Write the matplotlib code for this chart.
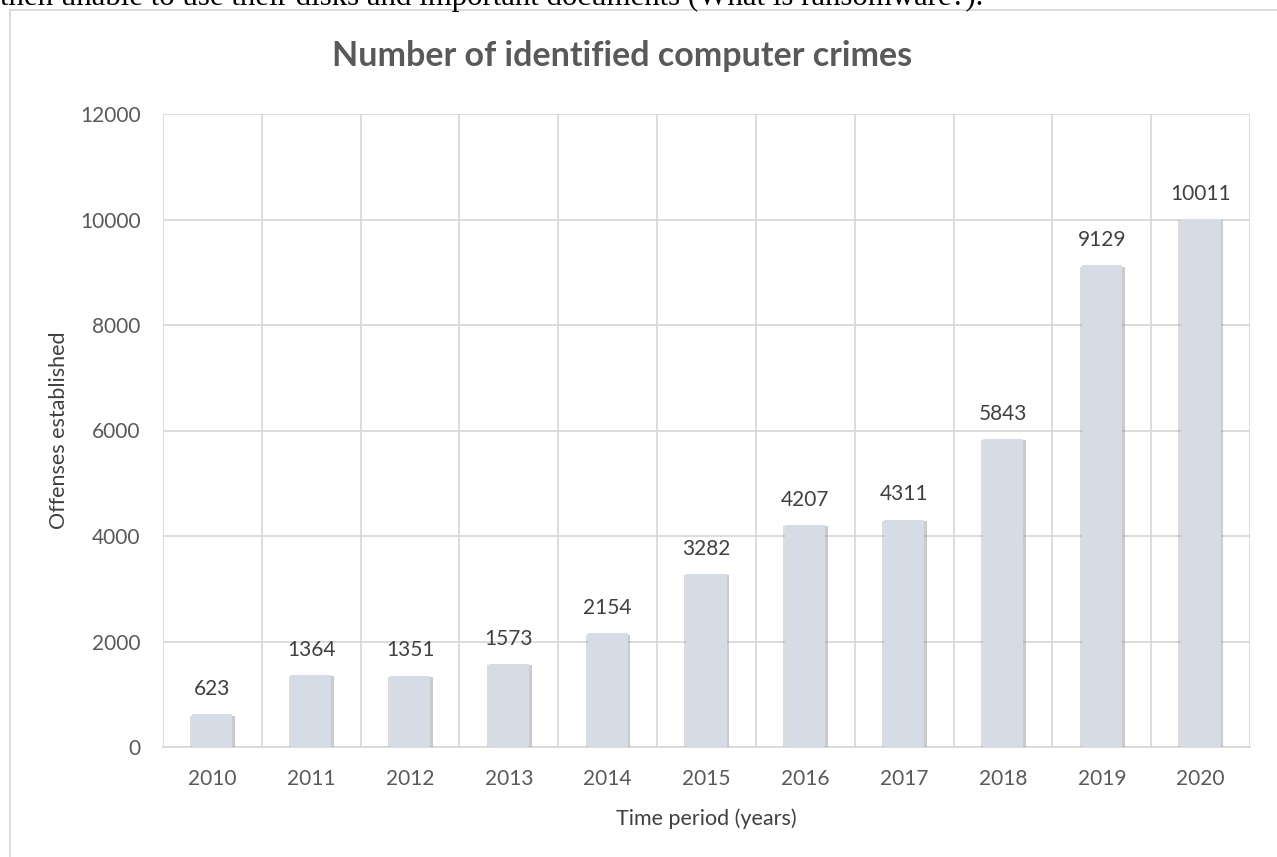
import matplotlib
matplotlib.use("Agg")
import matplotlib.pyplot as plt
import matplotlib.patheffects as pe
from matplotlib.lines import Line2D

years = ["2010", "2011", "2012", "2013", "2014", "2015", "2016", "2017", "2018", "2019", "2020"]
offenses = [623, 1364, 1351, 1573, 2154, 3282, 4207, 4311, 5843, 9129, 10011]
yticks = [0, 2000, 4000, 6000, 8000, 10000, 12000]

W, H = 1277, 857
fig = plt.figure(figsize=(W / 100, H / 100), dpi=100)
fig.patch.set_facecolor("white")

FONT = ["Lato", "DejaVu Sans"]
GRAY = "#595959"
DARK = "#404040"
GRID = "#D9D9D9"

# outer chart frame (left and top edges visible)
fig.add_artist(Line2D([9.5 / W, 9.5 / W], [0, 1 - 9.5 / H], transform=fig.transFigure, color=GRID, lw=1.3))
fig.add_artist(Line2D([9.5 / W, 1], [1 - 9.5 / H, 1 - 9.5 / H], transform=fig.transFigure, color=GRID, lw=1.3))

# cut-off body text at top
fig.text(0.0, 1 - 4.5 / H, "then unable to use their disks and important documents (What is ransomware?).",
         family=["Liberation Serif", "DejaVu Serif"], fontsize=22.2, color="black", ha="left", va="baseline")

left, right, top, bottom = 163, 1250, 114, 747
ax = fig.add_axes([left / W, 1 - bottom / H, (right - left) / W, (bottom - top) / H])
x = list(range(len(years)))
shadow = [pe.SimplePatchShadow(offset=(2.0, -1.0), shadow_rgbFace="#8c8c8c", alpha=0.45),
          pe.SimplePatchShadow(offset=(-1.5, -1.0), shadow_rgbFace="#8c8c8c", alpha=0.3),
          pe.Normal()]
bars = ax.bar(x, offenses, width=0.405, color="#D6DCE5", zorder=3, path_effects=shadow)
ax.set_xlim(-0.5, len(years) - 0.5)
ax.set_ylim(0, 12000)
ax.set_yticks(yticks)
ax.set_yticklabels([str(v) for v in yticks], family=FONT, fontsize=15, color=GRAY)
ax.set_xticks(x)
ax.set_xticklabels(years, family=FONT, fontsize=15, color=GRAY)
ax.set_xticks([i - 0.5 for i in range(len(years) + 1)], minor=True)
ax.tick_params(axis="both", which="both", length=0)
ax.tick_params(axis="x", pad=16)
ax.tick_params(axis="y", pad=16)
ax.grid(axis="y", which="major", color=GRID, lw=1.3, zorder=0)
ax.grid(axis="x", which="minor", color=GRID, lw=1.3, zorder=0)
for s in ["top", "right", "left"]:
    ax.spines[s].set_visible(False)
ax.spines["bottom"].set_color(GRID)
ax.spines["bottom"].set_linewidth(1.3)

for i, v in enumerate(offenses):
    ax.annotate(str(v), (i, v), xytext=(0, 11), textcoords="offset points", ha="center", va="bottom",
                family=FONT, fontsize=15, color=DARK)

ax.set_xlabel("Time period (years)", family=FONT, fontsize=15.5, color=DARK, labelpad=14)
ax.set_ylabel("Offenses established", family=FONT, fontsize=15.5, color=DARK, labelpad=8)

fig.text(622 / W, 1 - 56 / H, "Number of identified computer crimes", family=FONT, fontsize=24.5,
         fontweight="bold", color=GRAY, ha="center", va="center")

fig.savefig("out.png", dpi=100)
